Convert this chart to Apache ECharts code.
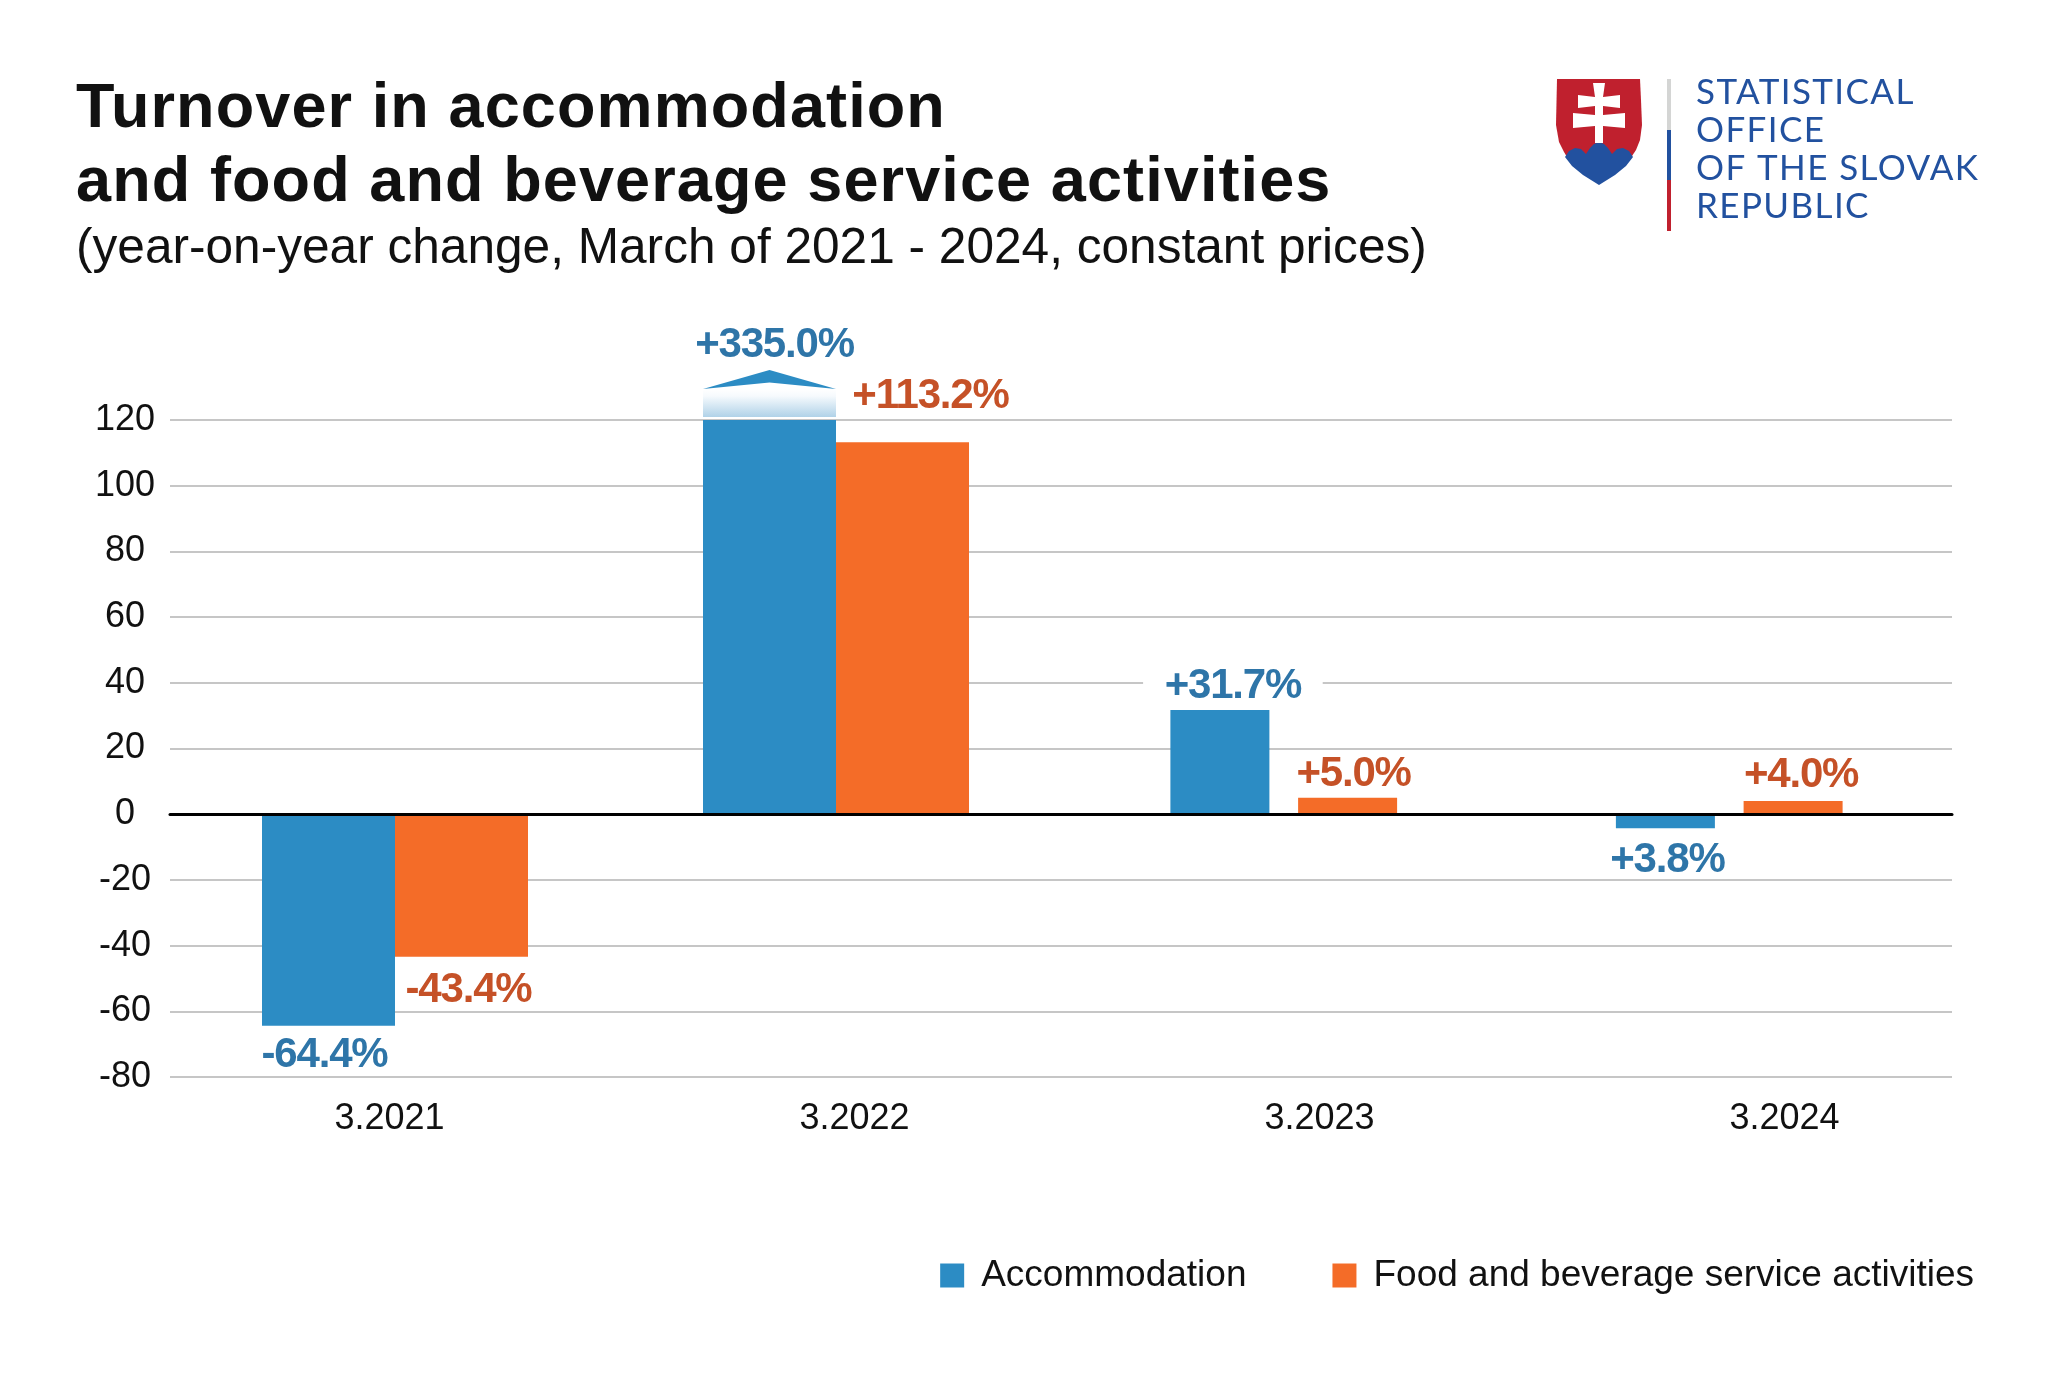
<!DOCTYPE html>
<html><head><meta charset="utf-8"><style>html,body{margin:0;padding:0;background:#fff}#c{width:2048px;height:1375px}</style>
<script src="https://cdn.jsdelivr.net/npm/echarts@6/dist/echarts.min.js"></script></head><body><div id="c"></div>
<script>
const categories = ['3.2021','3.2022','3.2023','3.2024'];
const accommodation = [-64.4, 335.0, 31.7, -4.3];
const food = [-43.4, 113.2, 5.0, 4.0];
const accommodationLabels = ['-64.4%','+335.0%','+31.7%','+3.8%'];
const foodLabels = ['-43.4%','+113.2%','+5.0%','+4.0%'];
const yTicks = {min:-80, max:120, interval:20};
const legendNames = ['Accommodation','Food and beverage service activities'];

// tracking used by the reference's type, applied by font size
const tracking={ '63px':'1.1px', '42px':'-1.2px', '35px':'1.4px' };
const _fill=CanvasRenderingContext2D.prototype.fillText;
CanvasRenderingContext2D.prototype.fillText=function(t,x,y,m){
  const k=(this.font.match(/\d+px/)||[])[0];
  this.letterSpacing=tracking[k]||'0.001px';
  return m===undefined?_fill.call(this,t,x,y):_fill.call(this,t,x,y,m);
};

const BLUE='#2c8cc4', ORANGE='#f46c28', BLUE_T='#2e75a8', ORANGE_T='#c55127', LOGO_B='#22519f', LOGO_R='#c0202e';
const FF='"Liberation Sans", Arial, sans-serif';
const gridTop=420, gridBottom=1375-1077;

const wideIdx=[0,1], narrowIdx=[2,3];
const labelCfg=(pos,dx,dy,color,extra)=>Object.assign({show:true,position:pos,offset:[dx,dy],color,fontFamily:FF,fontWeight:'bold',fontSize:42},extra||{});
const blueLabel=[labelCfg('bottom',-4,4,BLUE_T),labelCfg('top',5,-49,BLUE_T),labelCfg('top',13,2,BLUE_T,{backgroundColor:'#fff',padding:[0,18]}),labelCfg('bottom',2,6,BLUE_T)];
const orangeLabel=[labelCfg('bottom',7,8,ORANGE_T),labelCfg('top',28,-20,ORANGE_T),labelCfg('top',6,3,ORANGE_T),labelCfg('top',8,0,ORANGE_T)];
function pts(vals,texts,cfg,idx){
  return vals.map((v,i)=> idx.includes(i)?{value:v,label:Object.assign({},cfg[i],{formatter:texts[i]})}:null);
}
const series=[
 {type:'bar',z:3,xAxisIndex:3,yAxisIndex:2,name:legendNames[0],barWidth:133,barGap:'0%',itemStyle:{color:BLUE},data:pts(accommodation,accommodationLabels,blueLabel,wideIdx)},
 {type:'bar',z:3,xAxisIndex:3,yAxisIndex:2,name:legendNames[1],barWidth:133,barGap:'0%',itemStyle:{color:ORANGE},data:pts(food,foodLabels,orangeLabel,wideIdx)},
 {type:'bar',z:3,xAxisIndex:0,yAxisIndex:0,name:legendNames[0],barWidth:99,barGap:'29%',itemStyle:{color:BLUE},data:pts(accommodation,accommodationLabels,blueLabel,narrowIdx)},
 {type:'bar',z:3,xAxisIndex:0,yAxisIndex:0,name:legendNames[1],barWidth:99,barGap:'29%',itemStyle:{color:ORANGE},data:pts(food,foodLabels,orangeLabel,narrowIdx)},
 {type:'custom',xAxisIndex:3,yAxisIndex:2,z:4,silent:true,data:[[1,yTicks.max]],
  renderItem(params,api){
    const p=api.coord([api.value(0),api.value(1)]);
    const l=p[0]-133, r=p[0], c=(l+r)/2, t=p[1];
    return {type:'group',children:[
      {type:'rect',shape:{x:l,y:t-31,width:133,height:28},style:{fill:new echarts.graphic.LinearGradient(0,0,0,1,[{offset:0,color:'#ffffff'},{offset:.25,color:'#f6fafd'},{offset:1,color:'#b0d2e8'}])}},
      {type:'polygon',shape:{points:[[l,t-31],[c,t-50],[r,t-31],[c,t-37.5]]},style:{fill:BLUE}}
    ]};
  }}
];

const T=(text,x,y,style)=>({type:'text',x,y,silent:true,style:Object.assign({text,fontFamily:FF,fill:'#111',verticalAlign:'middle'},style)});
const logoFont='Lato, sans-serif';
const P=(points,fill)=>({type:'polygon',silent:true,shape:{points},style:{fill}});
const shield=[[1557,79],[1640,79],[1641,100],[1642,125],[1640,140],[1636,150],[1628,162],[1570,162],[1564,152],[1559,142],[1556,125]];
const mount=[[1565,157],[1569,151],[1575,148],[1581,149],[1586,154],[1590,148],[1594,144],[1599,142],[1604,144],[1608,148],[1612,154],[1617,149],[1623,148],[1629,151],[1633,157],[1626,166],[1615,175],[1599,185],[1583,175],[1572,166]];
const cross=[[1593,83],[1605,83],[1603,97],[1620,95],[1620,108],[1603,106],[1603,115],[1625,113],[1625,128],[1603,126],[1603,143],[1595,143],[1595,126],[1573,128],[1573,113],[1595,115],[1595,106],[1578,108],[1578,95],[1595,97]];
const graphic=[
 T('Turnover in accommodation',76,110,{fontWeight:'bold',fontSize:63}),
 T('and food and beverage service activities',76,184,{fontWeight:'bold',fontSize:63}),
 T('(year-on-year change, March of 2021 - 2024, constant prices)',76,249,{fontSize:49.6,fill:'#111'}),
 P(shield,LOGO_R),P(mount,LOGO_B),P(cross,'#fff'),
 {type:'rect',silent:true,shape:{x:1667,y:79,width:4,height:51},style:{fill:'#d4d5d4'}},
 {type:'rect',silent:true,shape:{x:1667,y:130,width:4,height:50},style:{fill:LOGO_B}},
 {type:'rect',silent:true,shape:{x:1667,y:180,width:4,height:51},style:{fill:LOGO_R}},
 T('STATISTICAL',1696,93,{fontFamily:logoFont,fontSize:35,fill:LOGO_B}),
 T('OFFICE',1696,131,{fontFamily:logoFont,fontSize:35,fill:LOGO_B}),
 T('OF THE SLOVAK',1696,169,{fontFamily:logoFont,fontSize:35,fill:LOGO_B}),
 T('REPUBLIC',1696,207,{fontFamily:logoFont,fontSize:35,fill:LOGO_B})
];

const chart=echarts.init(document.getElementById('c'),null,{renderer:'canvas'});
chart.setOption({
 animation:false,backgroundColor:'#fff',
 grid:[{left:170,width:1782,top:gridTop,bottom:gridBottom},{left:157,width:1860,top:gridTop,bottom:gridBottom},{left:174.5,width:1764,top:gridTop,bottom:gridBottom}],
 legend:{data:legendNames,right:69,top:1252,icon:'rect',itemWidth:24,itemHeight:24,itemGap:86,
   textStyle:{fontFamily:FF,fontSize:37,color:'#111',padding:[0,0,0,12]}},
 xAxis:[
  {type:'category',gridIndex:0,data:categories,z:5,axisLine:{onZero:true,lineStyle:{color:'#000',width:3}},axisTick:{show:false},axisLabel:{show:false},splitLine:{show:false}},
  {type:'category',gridIndex:1,data:categories,position:'bottom',axisLine:{show:false,onZero:false},axisTick:{show:false},axisLabel:{margin:24,fontFamily:FF,fontSize:36,color:'#111'}},
  {type:'category',gridIndex:0,data:categories,show:false,position:'top'},
  {type:'category',gridIndex:2,data:categories,show:false}
 ],
 yAxis:[
  Object.assign({type:'value',gridIndex:0},yTicks,{axisLine:{show:false},axisTick:{show:false},axisLabel:{align:'center',margin:45,fontFamily:FF,fontSize:36,color:'#111'},splitLine:{lineStyle:{color:'#c6c6c6',width:2}}}),
  Object.assign({type:'value',gridIndex:1,show:false},yTicks,{splitLine:{show:false}}),
  Object.assign({type:'value',gridIndex:2,show:false},yTicks,{splitLine:{show:false}})
 ],
 series:series.concat([{type:'bar',xAxisIndex:1,yAxisIndex:1,data:[],silent:true}]),
 graphic:{elements:graphic}
});
</script></body></html>
